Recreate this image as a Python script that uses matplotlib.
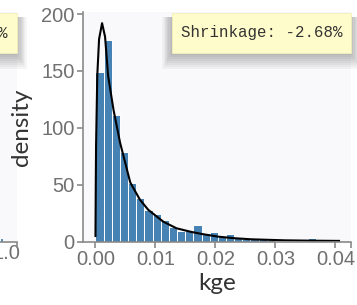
import matplotlib
matplotlib.use('Agg')
import matplotlib.pyplot as plt
from matplotlib.patches import Rectangle
import numpy as np

# histogram of kge (density), bins start at 0 with fixed width
bin_start = 0.0
bin_width = 0.00136
bar_heights = [149, 177, 111, 79, 52, 38, 28, 24, 19, 13, 9.5, 9, 15, 7.5,
               8.5, 4.5, 7, 3, 2, 2.5, 2, 1.5, 1, 1, 0.8, 0.8, 3]

# fitted density curve
curve_x = [0.0000, 0.00005, 0.0001, 0.0003, 0.0006, 0.0011, 0.0016, 0.0021,
           0.0030, 0.0041, 0.0058, 0.0074, 0.0088, 0.0113, 0.0135, 0.0158,
           0.0177, 0.0205, 0.0233, 0.0260, 0.0316, 0.0360, 0.0406]
curve_y = [5, 50, 85, 146, 178, 192, 180, 146, 116, 87, 52, 37, 28, 17.6,
           11.8, 8.8, 6.8, 4.4, 3.0, 2.1, 1.2, 0.9, 0.7]

x_ticks = [0.00, 0.01, 0.02, 0.03, 0.04]
x_labels = ['0.00', '0.01', '0.02', '0.03', '0.04']
y_ticks = [0, 50, 100, 150, 200]
shrinkage_text = 'Shrinkage: -2.68%'

# neighbouring panel, only its right edge shows
left_x = [0.957]
left_h = [3]

W, H = 357, 305
fig = plt.figure(figsize=(W / 100, H / 100), dpi=100)
fig.patch.set_facecolor('white')

def fx(px):
    return px / W

def fy(py):
    return 1 - py / H

panel_bg = '#f9f9fc'
tick_col = '#707070'
spine_col = '#8a8a8a'
bar_col = '#4682b4'

# neighbouring panel on the left (cut off)
ax0 = fig.add_axes([fx(-100), fy(241.7), fx(17) - fx(-100), fy(12) - fy(241.7)])
ax0.set_zorder(0)
ax0.set_facecolor(panel_bg)
ax0.bar(left_x, left_h, width=0.026, color=bar_col, edgecolor='white', linewidth=0.8)
ax0.set_xlim(0, 1.0 * 117 / 106)
ax0.set_ylim(0, 201.8)
ax0.set_xticks([1.0])
ax0.set_xticklabels(['1.0'])
ax0.set_xticks([1.0 * 117 / 106], minor=True)
ax0.set_yticks([])
for s in ['top', 'right', 'left']:
    ax0.spines[s].set_visible(False)
ax0.spines['bottom'].set_color(spine_col)
ax0.spines['bottom'].set_linewidth(1.2)
ax0.tick_params(which='both', direction='out', length=4, width=1.2, color=spine_col,
                labelcolor=tick_col, labelsize=14.5, pad=2)
ax0.tick_params(which='major', length=0)
for lab in ax0.get_xticklabels():
    lab.set_family('Liberation Sans')

# main panel
ax = fig.add_axes([fx(83), fy(241.7), fx(351) - fx(83), fy(12) - fy(241.7)])
ax.set_zorder(2)
ax.set_facecolor(panel_bg)
edges = bin_start + bin_width * np.arange(len(bar_heights))
ax.bar(edges, bar_heights, width=bin_width, align='edge', color=bar_col,
       edgecolor='white', linewidth=0.7)
ax.plot(curve_x, curve_y, color='black', lw=1.5)

ax.set_xlim(-0.00208, 0.0426)
ax.set_ylim(0, 201.8)
ax.set_xticks(x_ticks)
ax.set_xticklabels(x_labels)
ax.set_yticks(y_ticks)
ax.set_xticks([0.0426], minor=True)
for s in ['top', 'right']:
    ax.spines[s].set_visible(False)
for s in ['left', 'bottom']:
    ax.spines[s].set_color(spine_col)
    ax.spines[s].set_linewidth(1.2)
ax.tick_params(which='both', direction='out', length=4, width=1.2,
               color=spine_col, labelcolor=tick_col, labelsize=14.5, pad=2)
for lab in ax.get_xticklabels() + ax.get_yticklabels():
    lab.set_family('Liberation Sans')
ax.set_xlabel('kge', fontsize=17.5, family='Lato', color='#333333', labelpad=3)
ax.set_ylabel('density', fontsize=17.5, family='Lato', color='#333333', labelpad=7)

# yellow annotation boxes with a soft shadow
def note_box(x0, x1, y0, y1):
    for i in range(8):
        grow = 2 + i * 2
        fig.patches.append(Rectangle((fx(x0 - grow * 0.6), fy(y1 + grow)),
                                     fx(x1 + grow * 0.6) - fx(x0 - grow * 0.6),
                                     fy(y0 + 4) - fy(y1 + grow),
                                     transform=fig.transFigure, facecolor='black',
                                     alpha=0.035, edgecolor='none', zorder=5))
    fig.patches.append(Rectangle((fx(x0), fy(y1)), fx(x1) - fx(x0), fy(y0) - fy(y1),
                                 transform=fig.transFigure, facecolor='#fffccb',
                                 edgecolor='#f2eeb8', linewidth=0.6, zorder=6))

note_box(172, 351, 13, 53)
fig.text(fx(181), fy(33), shrinkage_text, family='Liberation Mono', fontsize=11.3,
         color='#333333', va='center', ha='left', zorder=7)

note_box(-60, 17, 13, 53)
fig.text(fx(8), fy(33), '%', family='Liberation Mono', fontsize=11.3,
         color='#333333', va='center', ha='right', zorder=7)

fig.savefig('out.png', dpi=100)
